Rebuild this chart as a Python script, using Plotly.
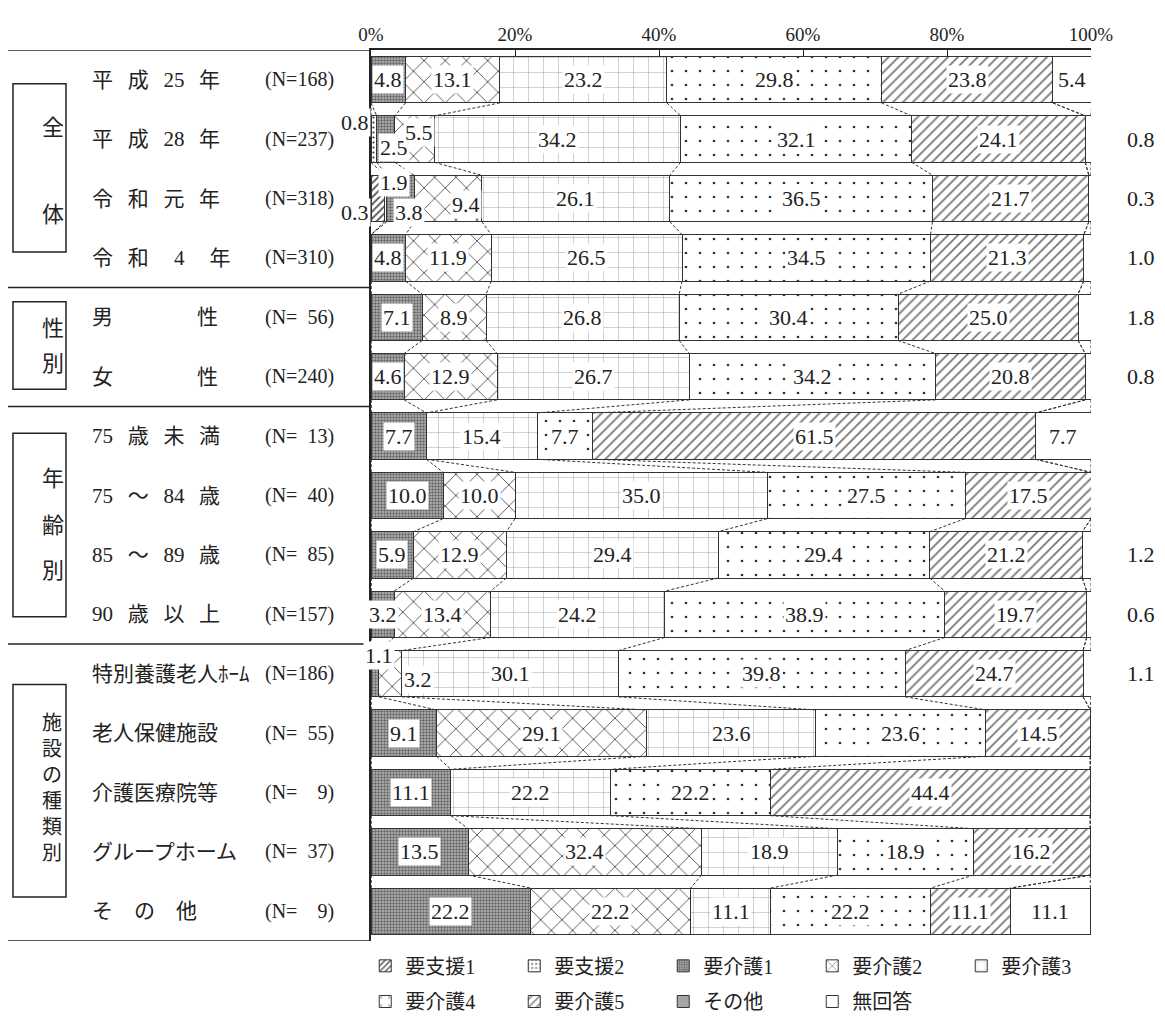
import plotly.graph_objects as go

# rows, top to bottom
row_names = ["平\u2002\u2009成\u2002\u200925\u2002\u2009年", "平\u2002\u2009成\u2002\u200928\u2002\u2009年",
             "令\u2002\u2009和\u2002\u2009元\u2002\u2009年", "令\u2002\u2009和\u2002\u2009\u20024\u2002\u2009\u2002年",
             "男\u3000\u3000\u3000\u3000性", "女\u3000\u3000\u3000\u3000性",
             "75\u2002\u2009歳\u2002\u2009未\u2002\u2009満", "75\u2002\u2009～\u2002\u200984\u2002\u2009歳",
             "85\u2002\u2009～\u2002\u200989\u2002\u2009歳", "90\u2002\u2009歳\u2002\u2009以\u2002\u2009上",
             "特別養護老人ﾎｰﾑ", "老人保健施設", "介護医療院等", "グループホーム", "そ\u3000の\u3000他"]
row_n = ["(N=168)", "(N=237)", "(N=318)", "(N=310)", "(N=\u200756)", "(N=240)",
         "(N=\u200713)", "(N=\u200740)", "(N=\u200785)", "(N=157)",
         "(N=186)", "(N=\u200755)", "(N=\u2007\u20079)", "(N=\u200737)", "(N=\u2007\u20079)"]

series = ["要支援1", "要支援2", "要介護1", "要介護2", "要介護3", "要介護4", "要介護5", "その他", "無回答"]

yoshien1 = [0, 0, 1.9, 0, 0, 0, 0, 0, 0, 0, 0, 0, 0, 0, 0]
yoshien2 = [0, 0.8, 0.3, 0, 0, 0, 0, 0, 0, 0, 0, 0, 0, 0, 0]
kaigo1 = [4.8, 2.5, 3.8, 4.8, 7.1, 4.6, 7.7, 10.0, 5.9, 3.2, 1.1, 9.1, 11.1, 13.5, 22.2]
kaigo2 = [13.1, 5.5, 9.4, 11.9, 8.9, 12.9, 0, 10.0, 12.9, 13.4, 3.2, 29.1, 0, 32.4, 22.2]
kaigo3 = [23.2, 34.2, 26.1, 26.5, 26.8, 26.7, 15.4, 35.0, 29.4, 24.2, 30.1, 23.6, 22.2, 18.9, 11.1]
kaigo4 = [29.8, 32.1, 36.5, 34.5, 30.4, 34.2, 7.7, 27.5, 29.4, 38.9, 39.8, 23.6, 22.2, 18.9, 22.2]
kaigo5 = [23.8, 24.1, 21.7, 21.3, 25.0, 20.8, 61.5, 17.5, 21.2, 19.7, 24.7, 14.5, 44.4, 16.2, 11.1]
sonota = [0] * 15
mukaito = [5.4, 0.8, 0.3, 1.0, 1.8, 0.8, 7.7, 0, 1.2, 0.6, 1.1, 0, 0, 0, 11.1]

values = [yoshien1, yoshien2, kaigo1, kaigo2, kaigo3, kaigo4, kaigo5, sonota, mukaito]

# group boxes: label text, box extent, text centre, font size (row units)
groups = [
    ("全", 0.07, 2.90, 0.81, 22),
    ("体", None, None, 2.27, 22),
    ("性", 3.74, 5.21, 4.19, 22),
    ("別", None, None, 4.78, 22),
    ("年", 5.95, 9.04, 6.71, 22),
    ("齢", None, None, 7.51, 22),
    ("別", None, None, 8.26, 22),
    ("施<br>設<br>の<br>種<br>類<br>別", 10.18, 13.76, 11.92, 20),
]
separators = [-0.5, 3.5, 5.5, 9.5, 14.5]

styles = {
    "要支援1": dict(shape="/", size=5, solidity=0.35, fgcolor="#555", bgcolor="white"),
    "要支援2": dict(shape=".", size=5, solidity=0.15, fgcolor="#333", bgcolor="white"),
    "要介護1": dict(shape=".", size=3, solidity=0.5, fgcolor="#666", bgcolor="#b8b8b8"),
    "要介護2": dict(shape="x", size=15, solidity=0.12, fgcolor="#555", bgcolor="white"),
    "要介護3": dict(shape="+", size=15, solidity=0.06, fgcolor="#999", bgcolor="white"),
    "要介護4": dict(shape=".", size=14, solidity=0.03, fgcolor="#333", bgcolor="white"),
    "要介護5": dict(shape="/", size=7, solidity=0.25, fgcolor="#777", bgcolor="white"),
    "その他": None,
    "無回答": None,
}
solid = {"その他": "#a6a6a6", "無回答": "white"}

FONT = "Liberation Serif, Noto Sans CJK JP"
rows = list(range(len(row_names)))
W = 0.78

fig = go.Figure()
for k, name in enumerate(series):
    pat = styles[name]
    marker = dict(line=dict(color="#333", width=1))
    if pat:
        marker["color"] = "white"
        marker["pattern"] = dict(fillmode="replace", **pat)
    else:
        marker["color"] = solid[name]
    fig.add_trace(go.Bar(
        x=values[k], y=rows, orientation="h", width=W, name=name, marker=marker,
        legend="legend" if k < 5 else "legend2", hoverinfo="x+name"))

# series lines between neighbouring bars
cum = []
for i in rows:
    s, c = 0, []
    for k in range(len(series)):
        s += values[k][i]
        c.append(s)
    cum.append(c)
lx, ly = [], []
for k in range(len(series)):
    for i in rows[:-1]:
        lx += [cum[i][k], cum[i + 1][k], None]
        ly += [i + W / 2, i + 1 - W / 2, None]
fig.add_trace(go.Scatter(x=lx, y=ly, mode="lines", showlegend=False, hoverinfo="skip",
                         line=dict(color="#333", width=1, dash="3px,2px")))

# value labels
tweaks = {
    (1, 1): dict(x=0, xanchor="right", yshift=17),
    (1, 2): dict(xshift=8, yshift=-8),
    (1, 3): dict(xshift=4, yshift=7),
    (2, 0): dict(xshift=16, yshift=16),
    (2, 1): dict(x=0, xanchor="right", yshift=-14),
    (2, 2): dict(xshift=8, yshift=-14),
    (2, 3): dict(xshift=18, yshift=-6),
    (10, 2): dict(xshift=4, yshift=18),
    (10, 3): dict(xshift=28, yshift=-6),
}
ann = []
for i in rows:
    start = 0
    for k in range(len(series)):
        v = values[k][i]
        if v > 0:
            a = dict(x=start + v / 2, y=i, text=f"{v:.1f}", showarrow=False, xref="x", yref="y",
                     font=dict(family=FONT, size=22, color="#222"), bgcolor="white", borderpad=1)
            if series[k] == "無回答" and v < 3:
                a.update(x=100, xanchor="left", xshift=34, bgcolor="rgba(0,0,0,0)")
            a.update(tweaks.get((i, k), {}))
            ann.append(a)
        start += v

# page has an 8px body margin: reference pixel p sits at paper (p - 371) / 720
def px(p):
    return (p - 371) / 720

for i in rows:
    ann.append(dict(x=px(90), y=i, xref="paper", yref="y", text=row_names[i], showarrow=False,
                    xanchor="left", font=dict(family=FONT, size=21, color="#222")))
    ann.append(dict(x=px(336), y=i, xref="paper", yref="y", text=row_n[i], showarrow=False,
                    xanchor="right", font=dict(family=FONT, size=20, color="#222")))

shapes = []
for text, y0, y1, yc, fs in groups:
    if y0 is not None:
        shapes.append(dict(type="rect", xref="paper", yref="y", x0=px(13), x1=px(66), y0=y0, y1=y1,
                           line=dict(color="#222", width=1.5)))
    ann.append(dict(x=px(39.5), y=yc, xref="paper", yref="y", text=text, showarrow=False,
                    font=dict(family=FONT, size=fs, color="#222")))
for s in separators:
    shapes.append(dict(type="line", xref="paper", yref="y", x0=px(8), x1=0, y0=s, y1=s,
                       line=dict(color="#222", width=1.5)))

fig.update_layout(
    barmode="stack",
    width=1165, height=1025,
    margin=dict(l=363, r=82, t=42, b=88),
    plot_bgcolor="white", paper_bgcolor="white",
    annotations=ann, shapes=shapes,
    legend=dict(orientation="h", x=-0.008, xanchor="left", y=-0.006, yanchor="top",
                entrywidth=104, itemwidth=30, traceorder="normal",
                font=dict(family=FONT, size=20, color="#222")),
    legend2=dict(orientation="h", x=-0.008, xanchor="left", y=-0.046, yanchor="top",
                 entrywidth=104, itemwidth=30, traceorder="normal",
                 font=dict(family=FONT, size=20, color="#222")),
)
fig.update_xaxes(range=[0, 100], side="top", dtick=20, ticksuffix="%", showgrid=False, zeroline=False,
                 showline=True, linecolor="#222", linewidth=1.5, ticks="inside", ticklen=6,
                 tickcolor="#222", tickfont=dict(family=FONT, size=19, color="#222"), fixedrange=True)
fig.update_yaxes(range=[14.5, -0.5], showticklabels=False, showgrid=False, zeroline=False,
                 showline=True, linecolor="#222", linewidth=2, ticks="", fixedrange=True)

fig.write_html("out.html")
